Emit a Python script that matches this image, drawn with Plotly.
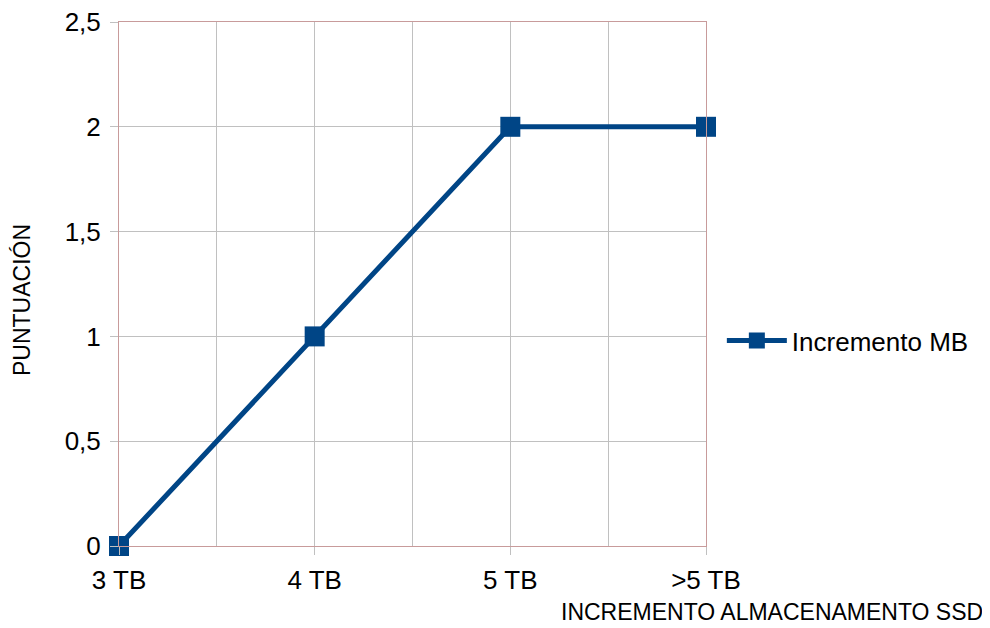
import plotly.graph_objects as go

categories = ["3 TB", "4 TB", "5 TB", ">5 TB"]
values = [0, 1, 2, 2]
series_name = "Incremento MB"
y_ticks = [0, 0.5, 1, 1.5, 2, 2.5]
x_title = "INCREMENTO ALMACENAMENTO SSD"
y_title = "PUNTUACIÓN"

x_pos = list(range(len(categories)))

BLUE = "#004586"
BORDER = "#c89b9b"
GRID = "#c0c0c0"
FONT = "Liberation Sans, Arial, sans-serif"

fig = go.Figure()
fig.add_trace(go.Scatter(
    x=x_pos, y=values, name=series_name, mode="lines+markers",
    line=dict(color=BLUE, width=5),
    marker=dict(symbol="square", size=20, color=BLUE),
    cliponaxis=False,
))

fig.update_layout(
    width=982, height=620,
    margin=dict(l=111, r=284, t=14, b=82, autoexpand=False),
    paper_bgcolor="white", plot_bgcolor="white",
    separators=",.",
    font=dict(family=FONT, size=26, color="#000000"),
    showlegend=True,
    legend=dict(x=1.027, y=0.392, xanchor="left", yanchor="middle",
                font=dict(size=26), itemwidth=60, bgcolor="rgba(0,0,0,0)"),
    xaxis=dict(
        range=[0, 3], tickmode="array", tickvals=x_pos, ticktext=categories,
        showgrid=True, gridcolor=GRID, gridwidth=1, automargin=False,
        minor=dict(tickmode="array", tickvals=[0.5, 1.5, 2.5], showgrid=True,
                   gridcolor=GRID, gridwidth=1, ticks=""),
        ticks="outside", ticklen=8, tickcolor=GRID, tickwidth=1,
        ticklabelstandoff=3, ticklabeloverflow="allow",
        showline=True, linecolor=BORDER, linewidth=1, mirror=True,
        zeroline=False, tickfont=dict(size=26),
    ),
    yaxis=dict(
        range=[0, 2.5], tickmode="array", tickvals=y_ticks,
        showgrid=True, gridcolor=GRID, gridwidth=1, automargin=False,
        ticks="outside", ticklen=8, tickcolor=GRID, tickwidth=1,
        ticklabelstandoff=4, ticklabeloverflow="allow",
        showline=True, linecolor=BORDER, linewidth=1, mirror=True,
        zeroline=False, tickfont=dict(size=26),
    ),
    annotations=[
        dict(text=x_title, xref="paper", yref="paper", x=1.4753, y=-0.126,
             xanchor="right", yanchor="middle", showarrow=False,
             font=dict(size=23)),
        dict(text=y_title, xref="paper", yref="paper", x=-0.1652, y=0.4695,
             xanchor="center", yanchor="middle", textangle=-90, showarrow=False,
             font=dict(size=23)),
    ],
)

fig.write_html("out.html")
